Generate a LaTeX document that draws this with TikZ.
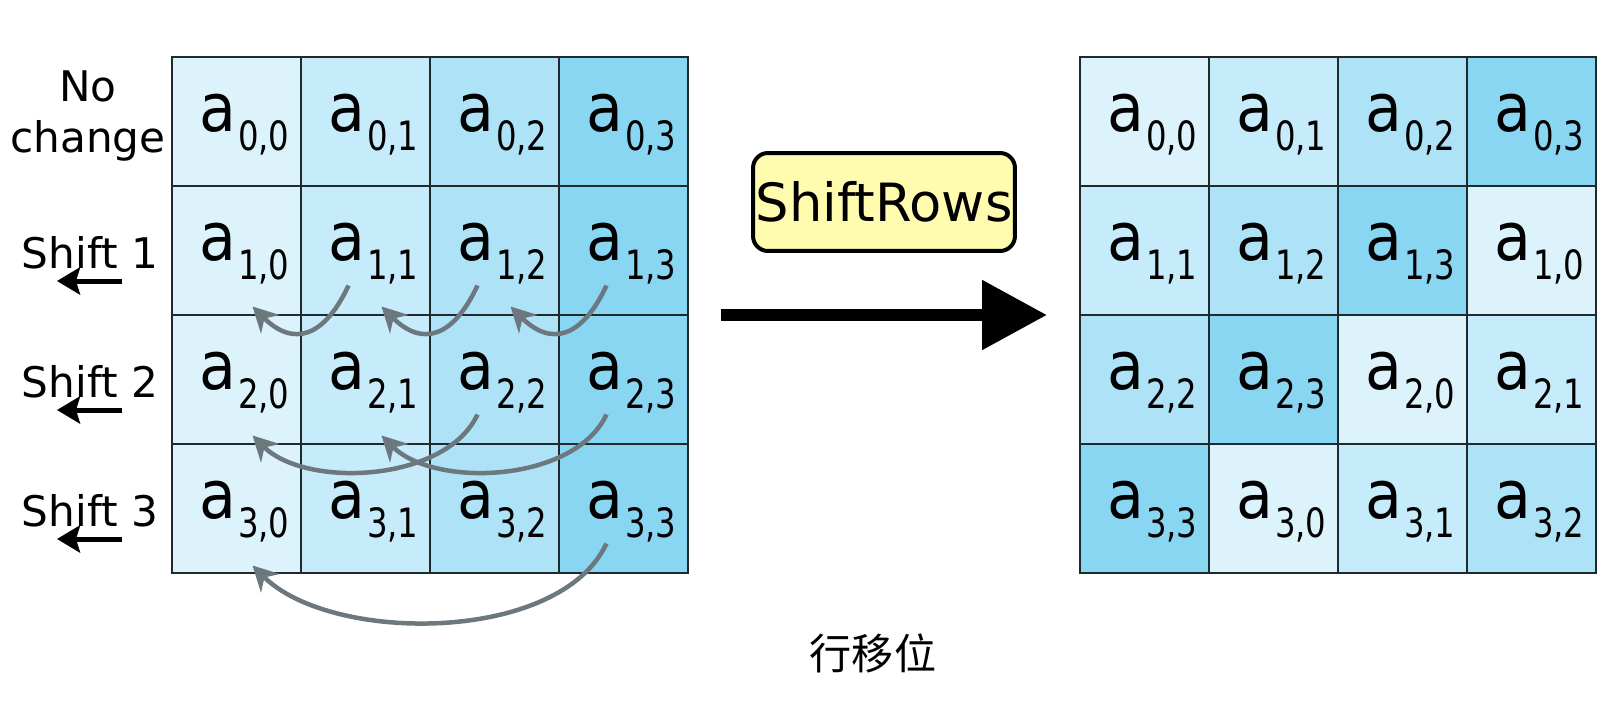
\documentclass[tikz,border=0pt]{standalone}
\usepackage{fontspec}
\setmainfont{DejaVu Sans}
\newfontfamily\cjkfont{Noto Sans CJK SC}
\usetikzlibrary{arrows.meta,calc,positioning}
\definecolor{col0}{HTML}{DDF3FC}
\definecolor{col1}{HTML}{C6EBFA}
\definecolor{col2}{HTML}{AEE3F7}
\definecolor{col3}{HTML}{89D6F3}
\definecolor{gridline}{HTML}{1E2A2E}
\definecolor{arrgray}{HTML}{6C787E}
\definecolor{boxyellow}{HTML}{FFFCB0}
\newcommand\idx[1]{\raisebox{-11pt}{\fontsize{23pt}{27pt}\selectfont\scalebox{0.8}[1]{#1}}}
\newcommand\elem[1]{\scalebox{0.9}[1]{a}\kern1pt\idx{#1}}

\begin{document}
\begin{tikzpicture}[x=0.02cm, y=0.02cm,
      cell/.style = {rectangle, draw=gridline, line width=0.04cm, minimum size=2.58cm, inner sep=0pt},
     entry/.style = {inner sep=0pt, font=\fontsize{38pt}{44pt}\selectfont},
    rowlab/.style = {align=center, inner sep=0pt, font=\fontsize{24pt}{28.8pt}\selectfont},
  shiftarr/.style = {line width=0.1cm, -{Stealth[length=0.46cm, width=0.54cm, inset=0.08cm]}},
     moved/.style = {arrgray, line width=0.09cm, -{Stealth[length=0.5cm, width=0.52cm]}},
     opbox/.style = {rectangle, rounded corners=0.3cm, draw, line width=0.08cm, fill=boxyellow,
                     minimum width=5.24cm, minimum height=1.96cm, inner xsep=1pt,
                     font=\fontsize{30pt}{35pt}\selectfont},
  bigarrow/.style = {line width=0.24cm, -{Triangle[length=1.3cm, width=1.34cm]}}
                    ]
\useasboundingbox (0,0) rectangle (1620,708);

% state before and after
\foreach \r in {0,...,3}
  \foreach \c in {0,...,3} {
    \pgfmathtruncatemacro\j{mod(\c+\r,4)}
    \node[cell, fill=col\c] (L\r\c) at (236.5+129*\c, 586.5-129*\r) {};
    \node[entry] (La\r\c) at ($(L\r\c)+(8,-3)$) {\elem{\r,\c}};
    \node[cell, fill=col\j] (R\r\c) at (1144.5+129*\c, 586.5-129*\r) {};
    \node[entry] (Ra\r\c) at ($(R\r\c)+(8,-3)$) {\elem{\r,\j}};
  }

% row labels
\node[rowlab] (lab0) at (88,592) {No\\change};
\foreach \r/\y in {1/455, 2/326, 3/197} {
  \node[rowlab] (lab\r) at (90,\y) {Shift \r};
  \coordinate (sa\r) at (122,\y-28);
  \coordinate (sb\r) at (57,\y-28);
  \draw[shiftarr] (sa\r) -- (sb\r);
}

% moves
\foreach \c [evaluate=\c as \n using int(\c+1)] in {0,1,2}
  \draw[moved] ($(L1\n)+(-17,-35)$) to[out=-115, in=-45, looseness=1.5] ($(L1\c)+(16,-56)$);
\foreach \c [evaluate=\c as \n using int(\c+2)] in {0,1}
  \draw[moved] ($(L2\n)+(-17,-35)$) to[out=-115, in=-45, looseness=0.85] ($(L2\c)+(16,-56)$);
\draw[moved] ($(L33)+(-17,-35)$) to[out=-115, in=-45, looseness=0.8] ($(L30)+(16,-57)$);

\node[opbox] (op) at (884,506) {ShiftRows};
\coordinate (arrS) at (721,393);
\coordinate (arrE) at (1047,393);
\draw[bigarrow] (arrS) -- (arrE);

\node[font=\cjkfont\fontsize{24pt}{28pt}\selectfont] (cap) at (873,55) {行移位};
\end{tikzpicture}
\end{document}
